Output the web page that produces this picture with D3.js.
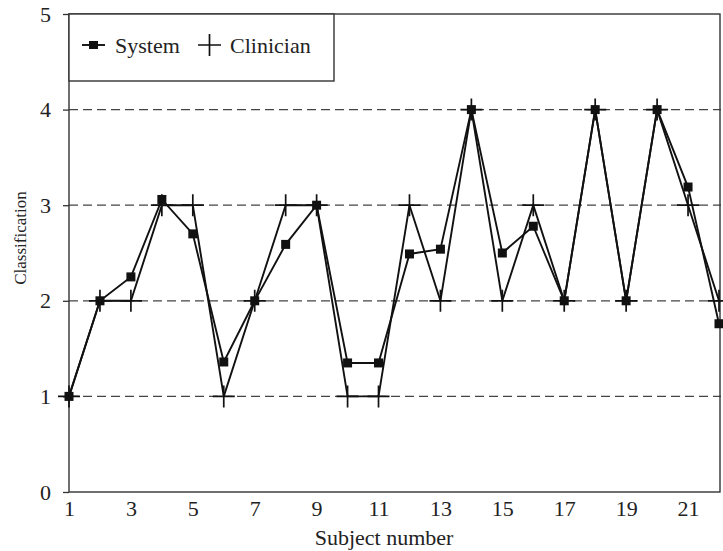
<!DOCTYPE html>
<html>
<head>
<meta charset="utf-8">
<script src="https://cdn.jsdelivr.net/npm/d3@7"></script>
<style>
  body { margin: 0; background: #fff; }
  svg, svg text { font-family: "Liberation Serif", "Times New Roman", Times, "DejaVu Serif", serif; }
  svg { display: block; }
</style>
</head>
<body>
<div id="chart"></div>
<script>
// subject numbers 1..22
const subjects = [1,2,3,4,5,6,7,8,9,10,11,12,13,14,15,16,17,18,19,20,21,22]

const systemValues = [1.0, 2.0, 2.25, 3.06, 2.7, 1.36, 2.0, 2.59, 3.0, 1.35, 1.35, 2.49, 2.54, 4.0, 2.5, 2.78, 2.0, 4.0, 2.0, 4.0, 3.19, 1.76]

const clinicianValues = [1, 2, 2, 3, 3, 1, 2, 3, 3, 1, 1, 3, 2, 4, 2, 3, 2, 4, 2, 4, 3, 2]

const xTicks = [1,3,5,7,9,11,13,15,17,19,21]
const yTicks = [0,1,2,3,4,5]
const gridValues = [1,2,3,4]

let width = 723
let height = 551
let plotLeft = 69, plotRight = 719, plotTop = 14, plotBottom = 492

const svg = d3.select('#chart')
	.append('svg')
	.attr('width', width)
	.attr('height', height)

let xScale = d3.scaleLinear()
	.domain([1, 22])
	.range([plotLeft, plotRight])

let yScale = d3.scaleLinear()
	.domain([0, 5])
	.range([plotBottom, plotTop])

// dashed gridlines
svg.append('g')
	.selectAll('line')
	.data(gridValues)
	.join('line')
	.attr('x1', plotLeft)
	.attr('x2', plotRight + 2)
	.attr('y1', d => yScale(d))
	.attr('y2', d => yScale(d))
	.attr('stroke', '#444')
	.attr('stroke-width', 1.3)
	.attr('stroke-dasharray', '9,5')

// frame
svg.append('rect')
	.attr('x', plotLeft)
	.attr('y', plotTop)
	.attr('width', plotRight + 1 - plotLeft)
	.attr('height', plotBottom - plotTop)
	.attr('fill', 'none')
	.attr('stroke', '#333')
	.attr('stroke-width', 1.4)

const xAxis = g => g
	.attr('transform', `translate(0,${plotBottom})`)
	.call(d3.axisBottom(xScale).tickValues(xTicks).tickSize(0).tickPadding(8).tickFormat(d3.format('d')))
	.call(g => g.select('.domain').remove())

const yAxis = g => g
	.attr('transform', `translate(${plotLeft},0)`)
	.call(d3.axisLeft(yScale).tickValues(yTicks).tickSize(6).tickPadding(12).tickFormat(d3.format('d')))
	.call(g => g.select('.domain').remove())

svg.append('g').call(xAxis).attr('font-family', null)
svg.append('g').call(yAxis).attr('font-family', null)

svg.selectAll('.tick text')
	.attr('font-size', 22)
	.attr('fill', '#222')
svg.selectAll('.tick line').attr('stroke', '#333').attr('stroke-width', 1.3)

const clinData = subjects.map((s, i) => ({x: s, y: clinicianValues[i]}))
const sysData = subjects.map((s, i) => ({x: s, y: systemValues[i]}))

let line = d3.line()
	.x(d => xScale(d.x))
	.y(d => yScale(d.y))

const plot = svg.append('g')

plot.append('path')
	.datum(clinData)
	.attr('d', line)
	.attr('fill', 'none')
	.attr('stroke', '#111')
	.attr('stroke-width', 1.9)

plot.append('path')
	.datum(sysData)
	.attr('d', line)
	.attr('fill', 'none')
	.attr('stroke', '#111')
	.attr('stroke-width', 1.9)

// clinician markers: plus
plot.selectAll('.plus')
	.data(clinData)
	.join('path')
	.attr('class', 'plus')
	.attr('d', d => {
		let cx = xScale(d.x), cy = yScale(d.y)
		return `M${cx - 11},${cy}H${cx + 11}M${cx},${cy - 11}V${cy + 11}`
	})
	.attr('stroke', '#111')
	.attr('stroke-width', 1.7)

// system markers: squares
plot.selectAll('.sq')
	.data(sysData)
	.join('rect')
	.attr('class', 'sq')
	.attr('x', d => xScale(d.x) - 4.5)
	.attr('y', d => yScale(d.y) - 4.5)
	.attr('width', 9)
	.attr('height', 9)
	.attr('fill', '#111')

// legend
const legend = svg.append('g')

legend.append('rect')
	.attr('x', plotLeft)
	.attr('y', plotTop)
	.attr('width', 265)
	.attr('height', 67)
	.attr('fill', '#fff')
	.attr('stroke', '#333')
	.attr('stroke-width', 1.4)

legend.append('line')
	.attr('x1', 82).attr('x2', 105)
	.attr('y1', 45).attr('y2', 45)
	.attr('stroke', '#111').attr('stroke-width', 1.9)

legend.append('rect')
	.attr('x', 89).attr('y', 41)
	.attr('width', 9).attr('height', 8)
	.attr('fill', '#111')

legend.append('text')
	.attr('x', 115).attr('y', 53)
	.attr('font-size', 22)
	.attr('fill', '#222')
	.text('System')

legend.append('path')
	.attr('d', 'M198,45H221M209.5,34V56')
	.attr('stroke', '#111').attr('stroke-width', 1.7)

legend.append('text')
	.attr('x', 230).attr('y', 53)
	.attr('font-size', 22)
	.attr('fill', '#222')
	.text('Clinician')

// axis titles
svg.append('text')
	.attr('x', 384)
	.attr('y', 545)
	.attr('text-anchor', 'middle')
	.attr('font-size', 22)
	.attr('fill', '#222')
	.text('Subject number')

svg.append('text')
	.attr('transform', 'translate(26,238) rotate(-90)')
	.attr('text-anchor', 'middle')
	.attr('font-size', 17)
	.attr('fill', '#222')
	.text('Classification')
</script>
</body>
</html>
